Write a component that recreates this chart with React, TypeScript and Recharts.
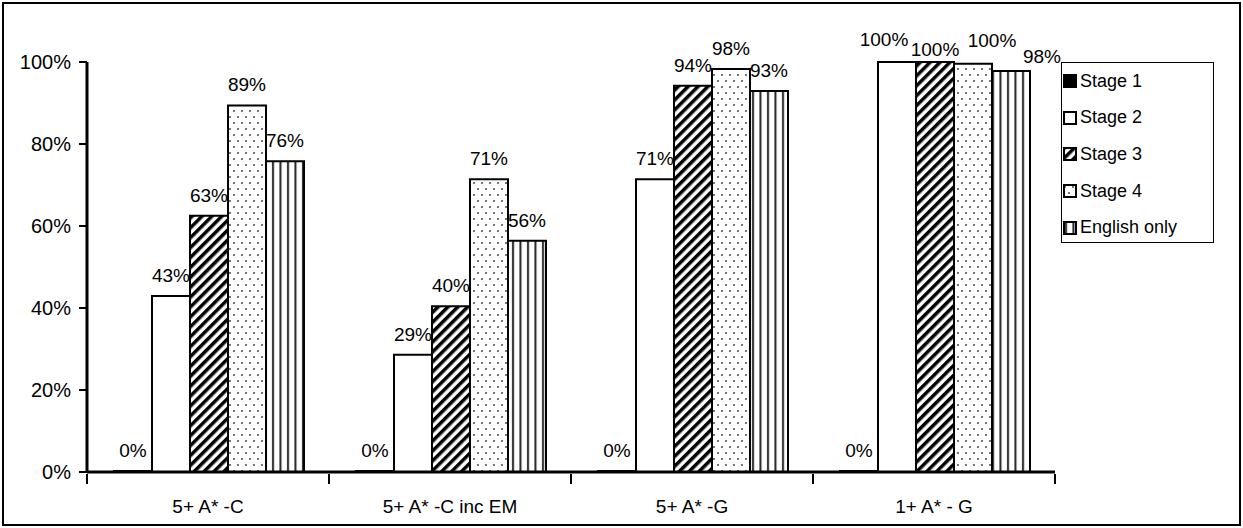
import { Bar, BarChart, LabelList, XAxis, YAxis } from "recharts"

const categories = ["5+ A* -C", "5+ A* -C inc EM", "5+ A* -G", "1+ A* - G"]
const stage1 = [0, 0, 0, 0]
const stage2 = [42.9, 28.6, 71.4, 100]
const stage3 = [62.5, 40.4, 94.2, 100]
const stage4 = [89.4, 71.4, 98.3, 99.6]
const englishOnly = [75.8, 56.4, 92.9, 97.8]
const yTicks = [0, 20, 40, 60, 80, 100]

const series = [
  { key: "stage1", name: "Stage 1", fill: "#000" },
  { key: "stage2", name: "Stage 2", fill: "#fff" },
  { key: "stage3", name: "Stage 3", fill: "url(#hatch)" },
  { key: "stage4", name: "Stage 4", fill: "url(#dots)" },
  { key: "english", name: "English only", fill: "url(#vlines)" },
]

const data = categories.map((c, i) => ({
  name: c,
  stage1: stage1[i],
  stage2: stage2[i],
  stage3: stage3[i],
  stage4: stage4[i],
  english: englishOnly[i],
}))

const font = "Arial, 'Liberation Sans', sans-serif"
const BAND = 242

// the last group is crowded, so its labels are staggered like in the original
const lastGroupNudge: Record<string, [number, number]> = {
  stage1: [0, 0],
  stage2: [-13, -2],
  stage3: [0, 8],
  stage4: [19, -3],
  english: [31, 6],
}

function Patterns() {
  return (
    <svg width="0" height="0" style={{ position: "absolute" }}>
      <defs>
        <pattern id="hatch" width="7" height="7" patternUnits="userSpaceOnUse" patternTransform="rotate(45)">
          <rect width="7" height="7" fill="#fff" />
          <rect x="0" y="0" width="3.5" height="7" fill="#000" />
        </pattern>
        <pattern id="dots" width="8" height="12" patternUnits="userSpaceOnUse">
          <rect width="8" height="12" fill="#fff" />
          <circle cx="2" cy="3" r="0.9" fill="#333" />
          <circle cx="6" cy="9" r="0.9" fill="#333" />
        </pattern>
        <pattern id="vlines" width="7.5" height="6" patternUnits="userSpaceOnUse">
          <rect width="7.5" height="6" fill="#fff" />
          <rect x="2" y="0" width="2" height="6" fill="#222" />
        </pattern>
      </defs>
    </svg>
  )
}

function LegendBox() {
  return (
    <div
      style={{
        position: "absolute",
        left: 1061,
        top: 62,
        width: 153,
        height: 181,
        border: "1px solid #000",
        background: "#fff",
        fontFamily: font,
        fontSize: 18,
        paddingTop: 0,
        boxSizing: "border-box",
      }}
    >
      {series.map((s) => (
        <div key={s.key} style={{ display: "flex", alignItems: "center", height: 36.6, paddingLeft: 1 }}>
          <svg width="14" height="14" style={{ marginRight: 3 }}>
            <rect x="1" y="1" width="12" height="12" fill={s.fill} stroke="#000" strokeWidth="2" />
          </svg>
          <span>{s.name}</span>
        </div>
      ))}
    </div>
  )
}

function CategoryTick(props: any) {
  const { x, y, payload, index } = props
  const left = x - BAND / 2
  return (
    <g>
      <line x1={left} y1={y} x2={left} y2={y + 10} stroke="#000" strokeWidth={2} />
      {index === categories.length - 1 && (
        <line x1={left + BAND} y1={y} x2={left + BAND} y2={y + 10} stroke="#000" strokeWidth={2} />
      )}
      <text x={x} y={y + 39} textAnchor="middle" fill="#000" fontSize={19} fontFamily={font}>
        {payload.value}
      </text>
    </g>
  )
}

function makeLabel(key: string) {
  return (props: any) => {
    const { x, y, width, value, index } = props
    const [dx, dy] = index === categories.length - 1 ? lastGroupNudge[key] : [0, 0]
    return (
      <text
        x={x + width / 2 + dx}
        y={y - 14 + dy}
        textAnchor="middle"
        fill="#000"
        fontSize={19}
        fontFamily={font}
      >
        {`${Math.round(value)}%`}
      </text>
    )
  }
}

export default function App() {
  return (
    <div style={{ position: "absolute", left: 0, top: 0, width: 1243, height: 528, background: "#fff" }}>
      <Patterns />
      <div
        style={{
          position: "absolute",
          left: 2,
          top: 2,
          width: 1239,
          height: 524,
          border: "2px solid #000",
          boxSizing: "border-box",
        }}
      />
      <div style={{ position: "absolute", left: 0, top: 0 }}>
        <BarChart
          width={1243}
          height={528}
          data={data}
          margin={{ top: 62, right: 188, left: 0, bottom: 16 }}
          barCategoryGap={27}
          barGap={0}
        >
          <XAxis
            dataKey="name"
            height={40}
            interval={0}
            axisLine={{ stroke: "#000", strokeWidth: 3 }}
            tickLine={false}
            tickSize={0}
            tick={<CategoryTick />}
          />
          <YAxis
            width={87}
            domain={[0, 100]}
            ticks={yTicks}
            tickFormatter={(v) => `${v}%`}
            axisLine={{ stroke: "#000", strokeWidth: 3 }}
            tickLine={{ stroke: "#000", strokeWidth: 2 }}
            tickSize={8}
            tickMargin={8}
            tick={{ fill: "#000", fontSize: 20, fontFamily: font }}
          />
          {series.map((s) => (
            <Bar
              key={s.key}
              dataKey={s.key}
              name={s.name}
              fill={s.fill}
              stroke="#000"
              strokeWidth={2}
              minPointSize={1}
              isAnimationActive={false}
            >
              <LabelList dataKey={s.key} content={makeLabel(s.key)} />
            </Bar>
          ))}
        </BarChart>
      </div>
      <LegendBox />
    </div>
  )
}
